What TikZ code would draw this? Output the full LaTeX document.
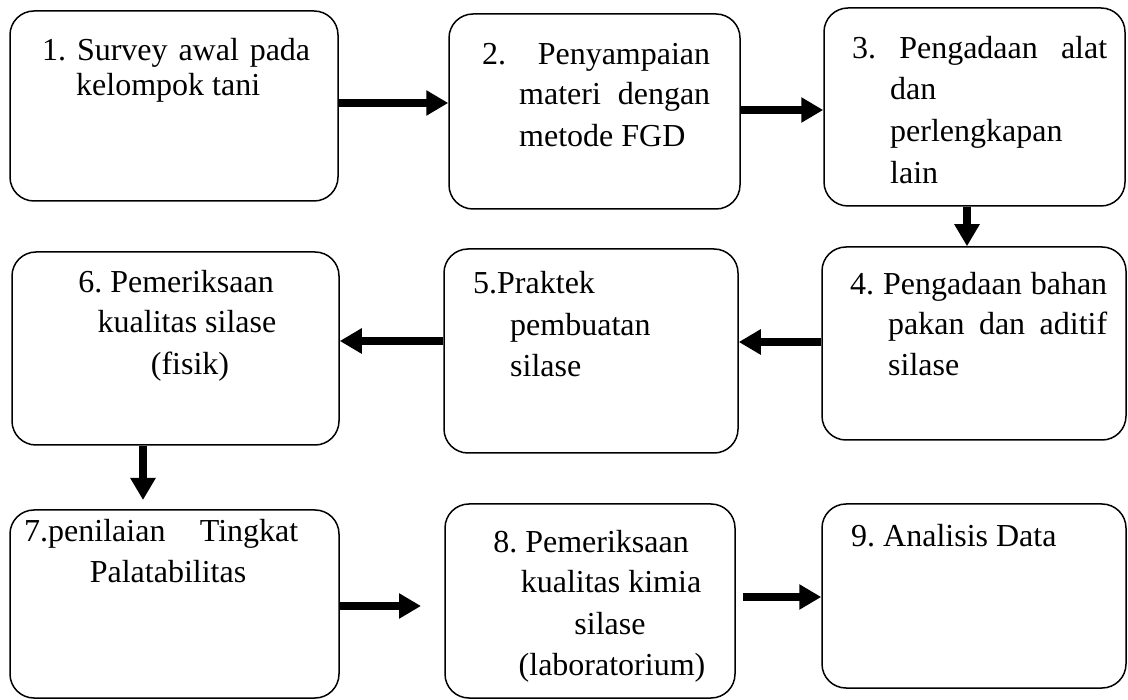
\documentclass[tikz,border=0pt]{standalone}
\usepackage{fontspec}
\setmainfont{Liberation Serif}
\usetikzlibrary{arrows.meta,fit}
\tikzset{
  box/.style={draw=black, line width=1.5pt, rounded corners=24pt, fill=white},
  txt/.style={inner sep=0pt, font=\fontsize{32}{38}\selectfont\frenchspacing},
  arr/.style={line width=8pt, -{Triangle[length=22pt,width=24pt]}}
}
\newcommand{\mybox}[5]{\path (#2,#3) coordinate (#1nw) (#4,#5) coordinate (#1se);
  \node[box, fit=(#1nw)(#1se), inner sep=0pt] (#1) {};}
\begin{document}
\begin{tikzpicture}[x=1pt,y=-1pt]
\useasboundingbox (0,0) rectangle (1128,700);
% boxes
\mybox{b1}{10}{11}{338}{201}
\mybox{b2}{449}{14}{740}{209}
\mybox{b3}{824}{8}{1125}{206}
\mybox{b4}{822}{247}{1126}{440}
\mybox{b5}{444}{249}{738}{453}
\mybox{b6}{12}{252}{339}{445}
\mybox{b7}{10}{510}{339}{698}
\mybox{b8}{445}{504}{735}{698}
\mybox{b9}{822}{504}{1126}{688}
% texts
\node[txt, anchor=base west] (t1a) at (42,61) {\makebox[268pt][s]{1. Survey awal pada}};
\node[txt, anchor=base west] (t1b) at (76,96) {kelompok tani};
\node[txt, anchor=base west] (t2a) at (482,65) {\makebox[228pt][s]{2. \ Penyampaian}};
\node[txt, anchor=base west] (t2b) at (519,105) {\makebox[191pt][s]{materi dengan}};
\node[txt, anchor=base west] (t2c) at (519,147) {metode FGD};
\node[txt, anchor=base west] (t3a) at (852,59) {\makebox[255pt][s]{3. Pengadaan alat}};
\node[txt, anchor=base west] (t3b) at (890,100) {dan};
\node[txt, anchor=base west] (t3c) at (890,142) {perlengkapan};
\node[txt, anchor=base west] (t3d) at (890,184) {lain};
\node[txt, anchor=base west] (t4a) at (850,295) {\makebox[257pt][s]{4. Pengadaan bahan}};
\node[txt, anchor=base west] (t4b) at (888,335) {\makebox[219pt][s]{pakan dan aditif}};
\node[txt, anchor=base west] (t4c) at (888,376) {silase};
\node[txt, anchor=base west] (t5a) at (473,294) {5.Praktek};
\node[txt, anchor=base west] (t5b) at (510,336) {pembuatan};
\node[txt, anchor=base west] (t5c) at (510,377) {silase};
\node[txt, anchor=base] (t6a) at (176,293) {6. Pemeriksaan};
\node[txt, anchor=base] (t6b) at (187,333) {kualitas silase};
\node[txt, anchor=base] (t6c) at (190,375) {(fisik)};
\node[txt, anchor=base west] (t7a) at (24,542) {\makebox[274pt][s]{7.penilaian Tingkat}};
\node[txt, anchor=base] (t7b) at (168,582) {Palatabilitas};
\node[txt, anchor=base] (t8a) at (591,553) {8. Pemeriksaan};
\node[txt, anchor=base] (t8b) at (611,592) {kualitas kimia};
\node[txt, anchor=base] (t8c) at (610,634) {silase};
\node[txt, anchor=base] (t8d) at (612,675) {(laboratorium)};
\node[txt, anchor=base west] (t9a) at (851,547) {9. Analisis Data};
% arrow levels
\coordinate (r12) at (0,103);
\coordinate (r23) at (0,110);
\coordinate (c34) at (967,0);
\coordinate (r45) at (0,342);
\coordinate (r56) at (0,341);
\coordinate (c67) at (143,0);
\coordinate (e67) at (143,500);
\coordinate (r78) at (0,606);
\coordinate (e78) at (421,606);
\coordinate (r89) at (0,597);
\coordinate (s89) at (743,597);
\draw[arr] (b1.east |- r12) -- (b2.west |- r12);
\draw[arr] (b2.east |- r23) -- (b3.west |- r23);
\draw[arr] (b3.south -| c34) -- (b4.north -| c34);
\draw[arr] (b4.west |- r45) -- (b5.east |- r45);
\draw[arr] (b5.west |- r56) -- (b6.east |- r56);
\draw[arr] (b6.south -| c67) -- (e67);
\draw[arr] (b7.east |- r78) -- (e78);
\draw[arr] (s89) -- (b9.west |- r89);
\end{tikzpicture}
\end{document}
